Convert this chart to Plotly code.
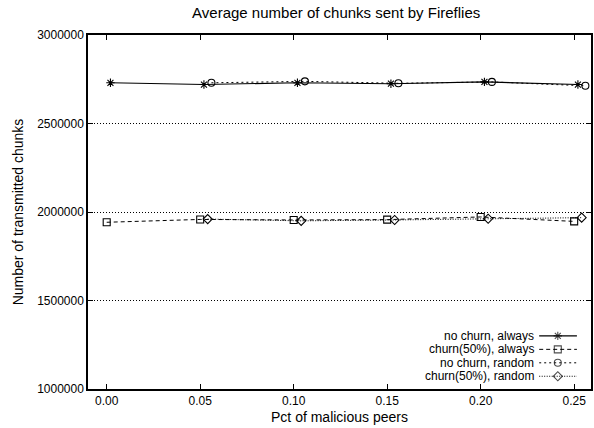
import plotly.graph_objects as go

# ---- data ----
x_nochurn_always = [0.002, 0.052, 0.102, 0.152, 0.202, 0.252]
y_nochurn_always = [2730000, 2720000, 2730000, 2725000, 2735000, 2720000]

x_churn_always = [0.0, 0.05, 0.10, 0.15, 0.20, 0.25]
y_churn_always = [1942000, 1958000, 1955000, 1957000, 1972000, 1947000]

x_nochurn_random = [0.056, 0.106, 0.156, 0.206, 0.256]
y_nochurn_random = [2730000, 2738000, 2727000, 2735000, 2713000]

x_churn_random = [0.054, 0.104, 0.154, 0.204, 0.254]
y_churn_random = [1960000, 1950000, 1955000, 1962000, 1968000]

series_names = ["no churn, always", "churn(50%), always", "no churn, random", "churn(50%), random"]
x_ticks = [0.00, 0.05, 0.10, 0.15, 0.20, 0.25]
x_tick_labels = ["0.00", "0.05", "0.10", "0.15", "0.20", "0.25"]
y_ticks = [1000000, 1500000, 2000000, 2500000, 3000000]
y_tick_labels = ["1000000", "1500000", "2000000", "2500000", "3000000"]

FONT = "Liberation Sans, Arial, Helvetica, sans-serif"

styles = [
    dict(dash="solid", symbol="asterisk-open", width=1.1, size=7),
    dict(dash="4px,3px", symbol="square-open", width=1, size=7),
    dict(dash="2px,3px", symbol="circle-open", width=1, size=7),
    dict(dash="1px,1.5px", symbol="diamond-open", width=1, size=7),
]
xs = [x_nochurn_always, x_churn_always, x_nochurn_random, x_churn_random]
ys = [y_nochurn_always, y_churn_always, y_nochurn_random, y_churn_random]

fig = go.Figure()
for name, x, y, st in zip(series_names, xs, ys, styles):
    fig.add_trace(go.Scatter(
        x=x, y=y, name=name, mode="lines+markers",
        line=dict(color="black", width=st["width"], dash=st["dash"]),
        marker=dict(symbol=st["symbol"], size=st["size"], color="black",
                    line=dict(color="black", width=1.1)),
        showlegend=False,
    ))

# custom gnuplot-style legend (text left, sample right), on an overlay axis in [0,1]
leg_rows = [0.150, 0.112, 0.074, 0.036]
lx0, lxm, lx1 = 0.897, 0.934, 0.972
for name, st, ry in zip(series_names, styles, leg_rows):
    fig.add_trace(go.Scatter(
        x=[lx0, lxm, lx1], y=[ry, ry, ry], xaxis="x2", yaxis="y2",
        mode="lines+markers", showlegend=False, hoverinfo="skip",
        line=dict(color="black", width=st["width"], dash=st["dash"]),
        marker=dict(symbol=st["symbol"], size=[0, st["size"], 0], color="black",
                    line=dict(color="black", width=1.1)),
    ))
    fig.add_annotation(x=lx0 - 0.008, y=ry, xref="x2", yref="y2",
                       text=name, showarrow=False, xanchor="right", yanchor="middle",
                       borderpad=0,
                       font=dict(family=FONT, size=12, color="black"))

fig.update_layout(
    width=594, height=428,
    margin=dict(l=88, r=1, t=35, b=39),
    paper_bgcolor="white", plot_bgcolor="white",
    font=dict(family=FONT, size=12, color="black"),
    title=dict(text="Average number of chunks sent by Fireflies", x=0.566, xanchor="center",
               y=0.97, yanchor="middle", font=dict(family=FONT, size=15, color="black")),
    xaxis=dict(range=[-0.01, 0.259], tickvals=x_ticks, ticktext=x_tick_labels,
               ticks="inside", ticklen=5, tickwidth=1, tickcolor="black",
               showline=True, linecolor="black", linewidth=1.5, mirror="ticks",
               showgrid=False, zeroline=False,
               title=dict(text="Pct of malicious peers", font=dict(family=FONT, size=14), standoff=5),
               tickfont=dict(family=FONT, size=12)),
    yaxis=dict(range=[1000000, 3000000], tickvals=y_ticks, ticktext=y_tick_labels,
               ticks="inside", ticklen=5, tickwidth=1, tickcolor="black",
               showline=True, linecolor="black", linewidth=1.5, mirror="ticks",
               showgrid=True, gridcolor="black", gridwidth=1, griddash="1px,2px",
               zeroline=False,
               title=dict(text="Number of transmitted chunks", font=dict(family=FONT, size=14), standoff=10),
               tickfont=dict(family=FONT, size=12)),
    xaxis2=dict(overlaying="x", range=[0, 1], visible=False, fixedrange=True),
    yaxis2=dict(overlaying="y", range=[0, 1], visible=False, fixedrange=True),
)

fig.write_html("out.html")
